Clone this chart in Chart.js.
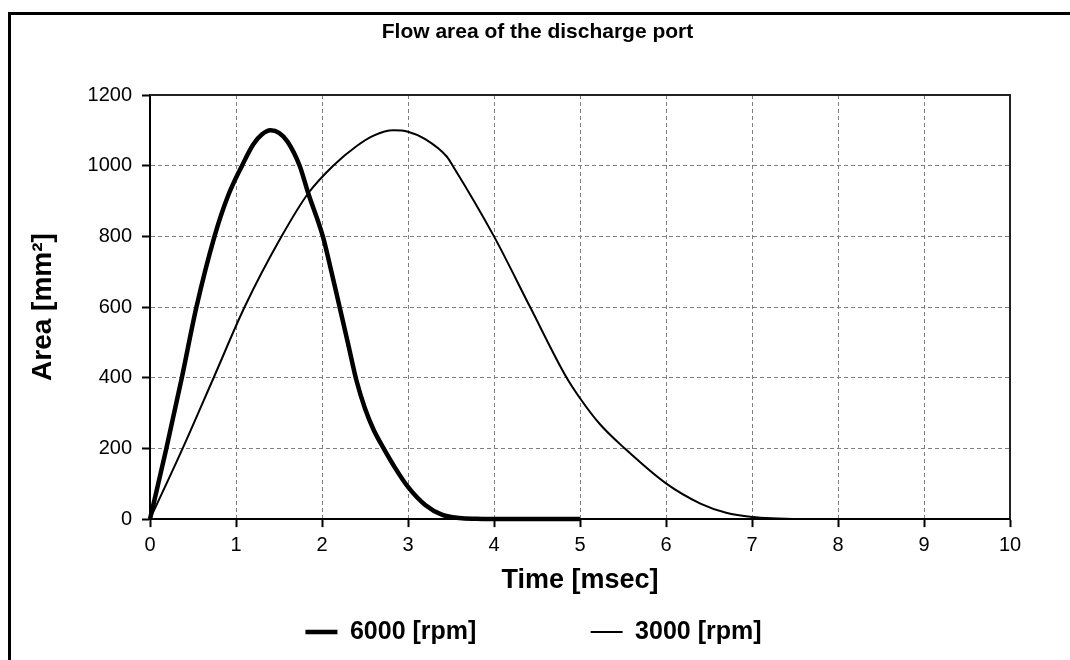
<!DOCTYPE html>
<html>
<head>
<meta charset="utf-8">
<script src="https://cdn.jsdelivr.net/npm/chart.js@4.4.0/dist/chart.umd.min.js"></script>
<style>
  html, body { margin: 0; padding: 0; background: #fff; overflow: hidden; }
  #wrap { position: relative; width: 1070px; height: 660px; }
  #frame { position: absolute; left: 8px; top: 12px; width: 1100px; height: 700px;
           border-left: 3px solid #000; border-top: 3px solid #000; }
  canvas { position: absolute; left: 0; top: 0; }
</style>
</head>
<body>
<div id="wrap">
  <canvas id="chart" width="1070" height="660"></canvas>
  <div id="frame"></div>
</div>
<script>
// values
const time6000 = [0, 0.19, 0.37, 0.54, 0.75, 0.9, 1.07, 1.2, 1.3, 1.4, 1.5, 1.6, 1.74, 1.84, 2.01, 2.1, 2.2, 2.3, 2.4, 2.5, 2.6, 2.71, 2.85, 3.0, 3.2, 3.4, 3.6, 3.8, 4.0, 5.0];
const area6000 = [0, 200, 400, 600, 800, 910, 1000, 1060, 1088, 1100, 1093, 1068, 1000, 922, 800, 710, 605, 500, 393, 313, 253, 203, 145, 91, 40, 12, 3, 1, 0, 0];

const time3000 = [0, 0.38, 0.74, 1.1, 1.53, 1.84, 2.13, 2.4, 2.6, 2.83, 3.0, 3.2, 3.45, 3.52, 4.0, 4.42, 4.84, 5.0, 5.23, 5.52, 6.0, 6.4, 6.7, 7.0, 7.3, 7.6, 8.0, 10.0];
const area3000 = [0, 200, 400, 600, 800, 922, 1000, 1055, 1085, 1100, 1096, 1075, 1026, 1000, 800, 600, 402, 342, 269, 200, 101, 44, 18, 6, 2, 0, 0, 0];

const seriesLabels = ['6000 [rpm]', '3000 [rpm]'];
const xTicks = [0, 1, 2, 3, 4, 5, 6, 7, 8, 9, 10];
const yTicks = [0, 200, 400, 600, 800, 1000, 1200];

const toPoints = (xs, ys) => xs.map((x, i) => ({ x: x, y: ys[i] }));

// solid top/right edge of the plot area, and centre title/legend like the original
const plotFrame = {
  id: 'plotFrame',
  afterLayout(chart) {
    if (chart.titleBlock) chart.titleBlock.left = 65;
    if (chart.legend) chart.legend.left = 57;
  },
  beforeDatasetsDraw(chart) {
    const { ctx, chartArea: a } = chart;
    ctx.save();
    ctx.strokeStyle = '#222';
    ctx.lineWidth = 2;
    ctx.beginPath();
    ctx.moveTo(a.left, a.top);
    ctx.lineTo(a.right, a.top);
    ctx.lineTo(a.right, a.bottom);
    ctx.stroke();
    ctx.restore();
  }
};

const ctx = document.getElementById('chart').getContext('2d');

new Chart(ctx, {
  type: 'line',
  data: {
    datasets: [
      {
        label: seriesLabels[0],
        data: toPoints(time6000, area6000),
        borderColor: '#000',
        backgroundColor: '#000',
        borderWidth: 4.5,
        pointRadius: 0,
        cubicInterpolationMode: 'monotone',
        fill: false,
        clip: false
      },
      {
        label: seriesLabels[1],
        data: toPoints(time3000, area3000),
        borderColor: '#000',
        backgroundColor: '#000',
        borderWidth: 2,
        pointRadius: 0,
        cubicInterpolationMode: 'monotone',
        fill: false,
        clip: false
      }
    ]
  },
  options: {
    responsive: false,
    animation: false,
    layout: { padding: { left: 10, right: 60, top: 14, bottom: 5.5 } },
    scales: {
      x: {
        type: 'linear',
        min: 0,
        max: 10,
        afterBuildTicks: (scale) => { scale.ticks = xTicks.map(v => ({ value: v })); },
        ticks: {
          color: '#000',
          padding: 6,
          maxRotation: 0,
          font: { family: 'Liberation Sans', size: 20 }
        },
        grid: {
          color: '#808080',
          lineWidth: 1,
          tickLength: 8,
          tickColor: '#000',
          tickWidth: 2
        },
        border: { display: true, color: '#000', width: 2, dash: [4, 3] },
        title: {
          display: true,
          text: 'Time [msec]',
          color: '#000',
          font: { family: 'Liberation Sans', size: 27, weight: 'bold' },
          padding: { top: 1, bottom: 13 }
        }
      },
      y: {
        min: 0,
        max: 1200,
        afterBuildTicks: (scale) => { scale.ticks = yTicks.map(v => ({ value: v })); },
        afterFit: (scale) => { scale.width = 140; },
        ticks: {
          color: '#000',
          padding: 10,
          font: { family: 'Liberation Sans', size: 20 },
          callback: (v) => String(v)
        },
        grid: {
          color: '#808080',
          lineWidth: 1,
          tickLength: 8,
          tickColor: '#000',
          tickWidth: 2
        },
        border: { display: true, color: '#000', width: 2, dash: [4, 3] },
        title: {
          display: true,
          text: 'Area [mm²]',
          color: '#000',
          font: { family: 'Liberation Sans', size: 28, weight: 'bold' },
          padding: { top: 16, bottom: 0 }
        }
      }
    },
    plugins: {
      title: {
        display: true,
        text: 'Flow area of the discharge port',
        color: '#000',
        font: { family: 'Liberation Sans', size: 21, weight: 'bold' },
        padding: { top: 6, bottom: 49.8 }
      },
      legend: {
        position: 'bottom',
        labels: {
          color: '#000',
          font: { family: 'Liberation Sans', size: 25, weight: 'bold' },
          usePointStyle: true,
          pointStyle: 'line',
          pointStyleWidth: 32,
          padding: 10,
          generateLabels: (chart) => {
            const items = Chart.defaults.plugins.legend.labels.generateLabels(chart);
            items[0].text += '               ';
            return items;
          }
        }
      },
      tooltip: { enabled: false }
    }
  },
  plugins: [plotFrame]
});
</script>
</body>
</html>
